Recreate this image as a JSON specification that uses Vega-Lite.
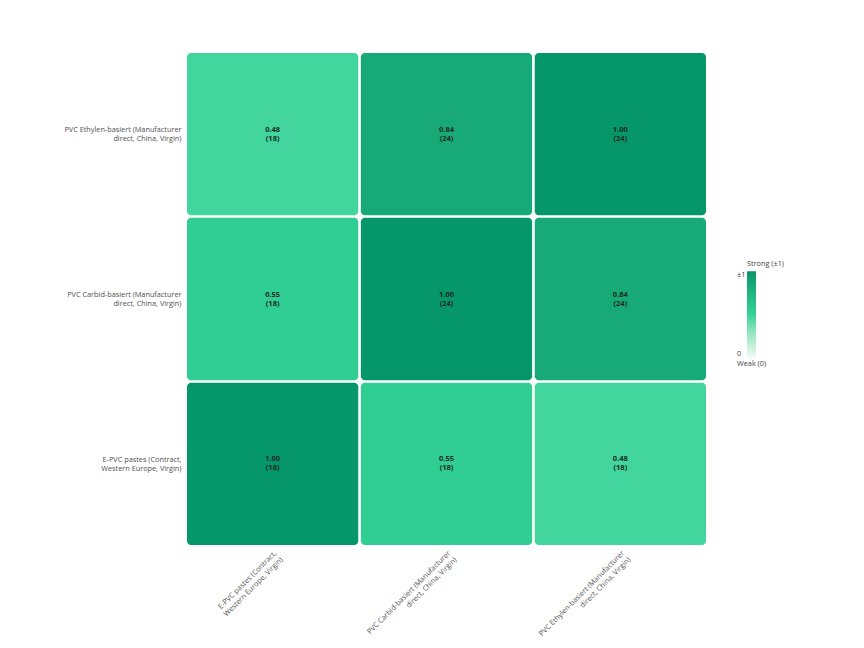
{
  "$schema": "https://vega.github.io/schema/vega-lite/v6.json",
  "autosize": {"type": "none"},
  "width": 519,
  "height": 492,
  "padding": {"left": 187, "top": 53, "right": 158, "bottom": 103},
  "background": "#ffffff",
  "config": {
    "view": {"stroke": null},
    "font": "Open Sans",
    "axis": {"domain": false, "ticks": false, "grid": false, "labelFont": "Open Sans", "labelFontSize": 7.3, "labelColor": "#505050", "labelLineHeight": 9},
    "legend": {"labelFont": "Open Sans", "titleFont": "Open Sans"}
  },
  "data": {
    "values": [
      {"row": "PVC Ethylen-basiert (Manufacturer direct, China, Virgin)", "col": "E-PVC pastes (Contract, Western Europe, Virgin)", "r": 0.48, "n": 18},
      {"row": "PVC Ethylen-basiert (Manufacturer direct, China, Virgin)", "col": "PVC Carbid-basiert (Manufacturer direct, China, Virgin)", "r": 0.84, "n": 24},
      {"row": "PVC Ethylen-basiert (Manufacturer direct, China, Virgin)", "col": "PVC Ethylen-basiert (Manufacturer direct, China, Virgin)", "r": 1.0, "n": 24},
      {"row": "PVC Carbid-basiert (Manufacturer direct, China, Virgin)", "col": "E-PVC pastes (Contract, Western Europe, Virgin)", "r": 0.55, "n": 18},
      {"row": "PVC Carbid-basiert (Manufacturer direct, China, Virgin)", "col": "PVC Carbid-basiert (Manufacturer direct, China, Virgin)", "r": 1.0, "n": 24},
      {"row": "PVC Carbid-basiert (Manufacturer direct, China, Virgin)", "col": "PVC Ethylen-basiert (Manufacturer direct, China, Virgin)", "r": 0.84, "n": 24},
      {"row": "E-PVC pastes (Contract, Western Europe, Virgin)", "col": "E-PVC pastes (Contract, Western Europe, Virgin)", "r": 1.0, "n": 18},
      {"row": "E-PVC pastes (Contract, Western Europe, Virgin)", "col": "PVC Carbid-basiert (Manufacturer direct, China, Virgin)", "r": 0.55, "n": 18},
      {"row": "E-PVC pastes (Contract, Western Europe, Virgin)", "col": "PVC Ethylen-basiert (Manufacturer direct, China, Virgin)", "r": 0.48, "n": 18}
    ]
  },
  "transform": [
    {"calculate": "[format(datum.r, '.2f'), '(' + datum.n + ')']", "as": "cellText"}
  ],
  "encoding": {
    "x": {
      "field": "col", "type": "nominal", "title": null,
      "sort": ["E-PVC pastes (Contract, Western Europe, Virgin)", "PVC Carbid-basiert (Manufacturer direct, China, Virgin)", "PVC Ethylen-basiert (Manufacturer direct, China, Virgin)"],
      "scale": {"paddingInner": 0.015, "paddingOuter": 0},
      "axis": {
        "labelAngle": -45, "labelAlign": "right", "labelBaseline": "top", "labelPadding": 4,
        "labelExpr": "split(replace(replace(datum.label, ' direct', '|direct'), ' Western', '|Western'), '|')"
      }
    },
    "y": {
      "field": "row", "type": "nominal", "title": null,
      "sort": ["PVC Ethylen-basiert (Manufacturer direct, China, Virgin)", "PVC Carbid-basiert (Manufacturer direct, China, Virgin)", "E-PVC pastes (Contract, Western Europe, Virgin)"],
      "scale": {"paddingInner": 0.015, "paddingOuter": 0},
      "axis": {
        "labelPadding": 6, "labelLimit": 200, "labelOffset": -4,
        "labelExpr": "split(replace(replace(datum.label, ' direct', '|direct'), ' Western', '|Western'), '|')"
      }
    }
  },
  "layer": [
    {
      "mark": {"type": "rect", "cornerRadius": 4},
      "encoding": {
        "color": {
          "field": "r", "type": "quantitative",
          "scale": {"domain": [0, 0.5, 1], "range": ["#f1fbf6", "#34d399", "#059669"]},
          "legend": {
            "orient": "none", "legendX": 560, "legendY": 207,
            "title": "Strong (±1)", "titleFontSize": 7.3, "titleFontWeight": "normal", "titleColor": "#444444", "titlePadding": 4,
            "gradientLength": 87, "gradientThickness": 9, "gradientStrokeWidth": 0,
            "values": [0, 1], "labelFontSize": 7.3, "labelColor": "#444444",
            "labelAlign": "left", "labelOffset": -19,
            "labelExpr": "datum.value >= 1 ? '±1' : ['0', 'Weak (0)']"
          }
        }
      }
    },
    {
      "mark": {"type": "text", "fontSize": 7.5, "fontWeight": "bold", "color": "#1c2a22", "baseline": "middle", "lineHeight": 9, "dy": -4.5},
      "encoding": {"text": {"field": "cellText"}}
    }
  ]
}
